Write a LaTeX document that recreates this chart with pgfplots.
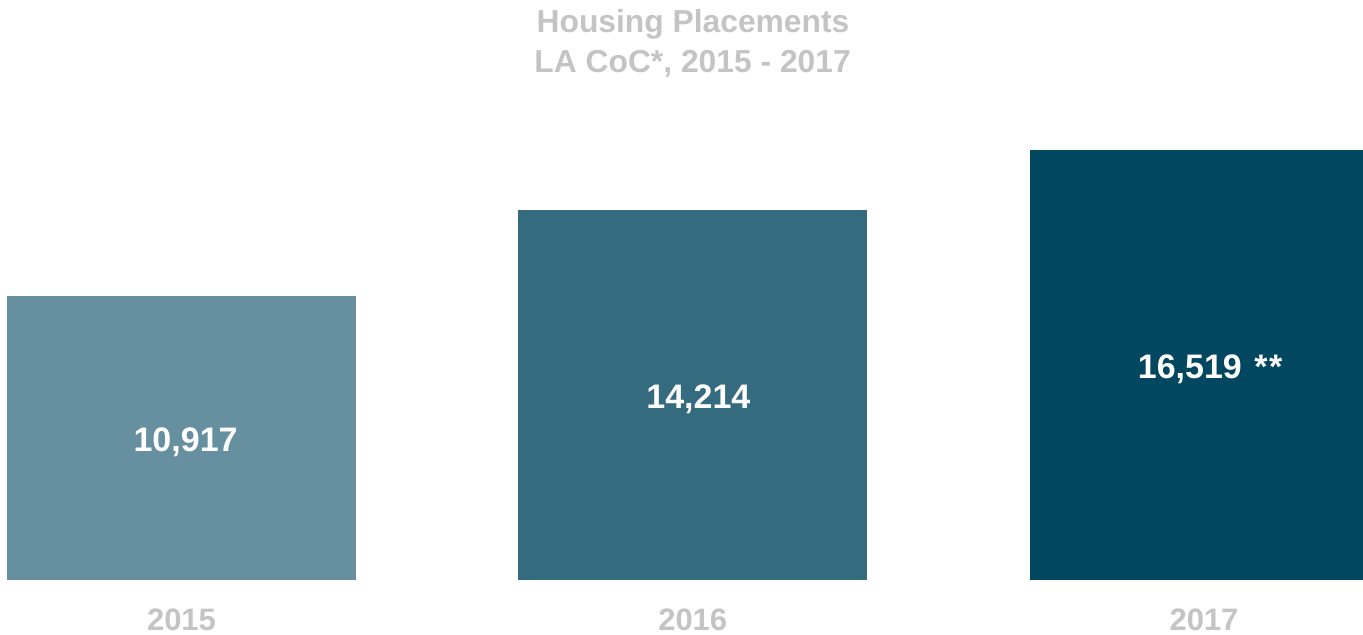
\documentclass[border=0pt]{standalone}
\usepackage{fontspec}
\setmainfont{Liberation Sans}
\usepackage{pgfplots}
\pgfplotsset{compat=1.18}
\definecolor{c15}{RGB}{102,143,159}
\definecolor{c16}{RGB}{52,107,126}
\definecolor{c17}{RGB}{0,71,95}
\definecolor{tgrey}{RGB}{196,196,196}
\begin{document}
\begin{tikzpicture}[x=1pt,y=1pt]
\path[use as bounding box] (0,0) rectangle (681.5,317.5);
\begin{axis}[
  at={(0pt,27.5pt)}, anchor=south west,
  scale only axis, width=681.5pt, height=240pt,
  xmin=-0.355, xmax=2.311, ymin=0, ymax=18433,
  axis line style={draw=none}, tick style={draw=none},
  ytick=\empty,
  xtick={0,1,2}, xticklabels={2015,2016,2017},
  xticklabel style={font=\bfseries\fontsize{15.5}{18}\selectfont, text=tgrey, anchor=base, yshift=-21pt, inner sep=0pt},
  ybar, bar width=0.6826,
]
\addplot[fill=c15, draw=none, bar shift=0pt] coordinates {(0,10917)};
\addplot[fill=c16, draw=none, bar shift=0pt] coordinates {(1,14214)};
\addplot[fill=c17, draw=none, bar shift=0pt] coordinates {(2,16519)};
\node[text=white, font=\bfseries\fontsize{17}{20}\selectfont] at (axis cs:0.008,5300) {10,917};
\node[text=white, font=\bfseries\fontsize{17}{20}\selectfont] at (axis cs:1.011,6950) {14,214};
\node[text=white, font=\bfseries\fontsize{17}{20}\selectfont] at (axis cs:2.012,8100) {16,519\hspace{1.5pt} *\hspace{0.8pt}*};
\end{axis}
\node[anchor=base, text=tgrey, font=\bfseries\fontsize{15.9}{18}\selectfont, inner sep=0pt] at (346.5,301) {Housing Placements};
\node[anchor=base, text=tgrey, font=\bfseries\fontsize{15.9}{18}\selectfont, inner sep=0pt] at (346.3,281) {LA CoC*, 2015 - 2017};
\end{tikzpicture}
\end{document}
